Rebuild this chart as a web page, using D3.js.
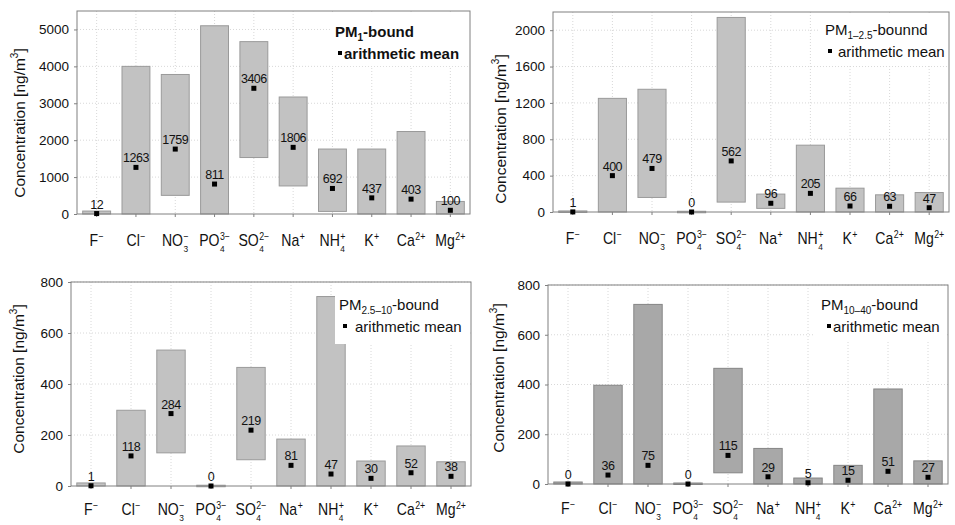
<!DOCTYPE html>
<html>
<head>
<meta charset="utf-8">
<script src="https://cdn.jsdelivr.net/npm/d3@7"></script>
<style>
  body { margin: 0; background: #fff; }
  text { font-family: "Liberation Sans", Arial, sans-serif; fill: #111; }
</style>
</head>
<body>
<div id="chart"></div>
<script>
// ions on the x axis: base text, subscript, superscript
const ions = ["F", "Cl", "NO", "PO", "SO", "Na", "NH", "K", "Ca", "Mg"];
const ionSub = ["", "", "3", "4", "4", "", "4", "", "", ""];
const ionSup = ["\u2212", "\u2212", "\u2212", "3\u2212", "2\u2212", "+", "+", "+", "2+", "2+"];

// PM1-bound: min, max, arithmetic mean
const pm1Min  = [0, 0, 505, 0, 1530, 760, 70, 0, 0, 0];
const pm1Max  = [80, 4000, 3780, 5100, 4670, 3170, 1760, 1760, 2235, 340];
const pm1Mean = [12, 1263, 1759, 811, 3406, 1806, 692, 437, 403, 100];

// PM1-2.5-bound
const pm12Min  = [0, 0, 160, 0, 109, 40, 0, 0, 0, 0];
const pm12Max  = [12, 1250, 1350, 8, 2140, 197, 735, 262, 189, 214];
const pm12Mean = [1, 400, 479, 0, 562, 96, 205, 66, 63, 47];

// PM2.5-10-bound
const pm210Min  = [0, 0, 130, 0, 103, 0, 0, 0, 0, 0];
const pm210Max  = [12, 297, 533, 3, 465, 184, 743, 98, 157, 95];
const pm210Mean = [1, 118, 284, 0, 219, 81, 47, 30, 52, 38];

// PM10-40-bound
const pm1040Min  = [0, 0, 0, 0, 45, 0, 0, 0, 0, 0];
const pm1040Max  = [8, 397, 722, 4, 465, 143, 24, 75, 382, 93];
const pm1040Mean = [0, 36, 75, 0, 115, 29, 5, 15, 51, 27];

const ticks1 = [0, 1000, 2000, 3000, 4000, 5000];
const ticks12 = [0, 400, 800, 1200, 1600, 2000];
const ticks800 = [0, 200, 400, 600, 800];

const W = 955, H = 525;
const svg = d3.select("#chart").append("svg")
  .attr("width", W).attr("height", H);
svg.append("rect").attr("width", W).attr("height", H).attr("fill", "#fff");

const panels = [
  { x0: 77, x1: 470, y0: 11, y1: 214, max: 5500, ticks: ticks1, labY: 32,
    lo: pm1Min, hi: pm1Max, mean: pm1Mean, fill: "#c2c2c2", stroke: "#9a9a9a",
    sub: "1", bold: true, tail: "-bound",
    leg: { x: 335, y: 37, sq: 3, tx: 9, bx: 330, by: 12, bw: 139, bh: 54 }, ylab: { x: 21, y: 123 } },
  { x0: 553, x1: 949, y0: 12, y1: 212, max: 2200, ticks: ticks12, labY: 32,
    lo: pm12Min, hi: pm12Max, mean: pm12Mean, fill: "#c2c2c2", stroke: "#9a9a9a",
    sub: "1\u20132.5", bold: false, tail: "-bounnd",
    leg: { x: 825, y: 35, sq: 3, tx: 13, bx: 820, by: 13, bw: 128, bh: 52 }, ylab: { x: 502, y: 129 } },
  { x0: 71, x1: 471, y0: 282, y1: 486, max: 800, ticks: ticks800, labY: 29,
    lo: pm210Min, hi: pm210Max, mean: pm210Mean, fill: "#c2c2c2", stroke: "#9a9a9a",
    sub: "2.5\u201310", bold: false, tail: "-bound",
    leg: { x: 339, y: 310, sq: 4, tx: 16, bx: 335, by: 283, bw: 135, bh: 61 }, ylab: { x: 20, y: 379 } },
  { x0: 548, x1: 948, y0: 285, y1: 484, max: 800, ticks: ticks800, labY: 30,
    lo: pm1040Min, hi: pm1040Max, mean: pm1040Mean, fill: "#a8a8a8", stroke: "#858585",
    sub: "10\u201340", bold: false, tail: "-bound",
    leg: { x: 821, y: 310, sq: 6, tx: 12, bx: 815, by: 286, bw: 132, bh: 56 }, ylab: { x: 500, y: 378 } }
];

panels.forEach(drawPanel);

function drawPanel(p) {
  const g = svg.append("g");
  const x = d3.scaleBand().domain(d3.range(ions.length))
    .range([p.x0, p.x1]).paddingInner(0.29).paddingOuter(0.145);
  const y = d3.scaleLinear().domain([0, p.max]).range([p.y1, p.y0]);
  const cx = i => x(i) + x.bandwidth() / 2;

  // grid
  g.selectAll(".hg").data(p.ticks.slice(1)).enter().append("line")
    .attr("x1", p.x0).attr("x2", p.x1)
    .attr("y1", d => y(d)).attr("y2", d => y(d))
    .attr("stroke", "#d8d8d8").attr("stroke-dasharray", "1,2");
  g.selectAll(".vg").data(d3.range(ions.length)).enter().append("line")
    .attr("x1", cx).attr("x2", cx)
    .attr("y1", p.y0).attr("y2", p.y1)
    .attr("stroke", "#d8d8d8").attr("stroke-dasharray", "1,2");

  // range boxes
  g.selectAll(".box").data(d3.range(ions.length)).enter().append("rect")
    .attr("x", i => x(i)).attr("width", x.bandwidth())
    .attr("y", i => y(p.hi[i]))
    .attr("height", i => Math.max(1.5, y(p.lo[i]) - y(p.hi[i])))
    .attr("fill", p.fill).attr("stroke", p.stroke).attr("stroke-width", 1);

  // legend background covers grid and bar tops
  g.append("rect").attr("x", p.leg.bx).attr("y", p.leg.by)
    .attr("width", p.leg.bw).attr("height", p.leg.bh).attr("fill", "#fff");

  // frame
  g.append("rect").attr("x", p.x0).attr("y", p.y0)
    .attr("width", p.x1 - p.x0).attr("height", p.y1 - p.y0)
    .attr("fill", "none").attr("stroke", "#808080").attr("stroke-width", 1);
  g.selectAll(".xt").data(d3.range(ions.length)).enter().append("line")
    .attr("x1", cx).attr("x2", cx).attr("y1", p.y1).attr("y2", p.y1 + 3)
    .attr("stroke", "#808080");

  // y axis ticks
  const ax = g.append("g").attr("transform", `translate(${p.x0},0)`)
    .call(d3.axisLeft(y).tickValues(p.ticks).tickFormat(d3.format("d"))
      .tickSize(3).tickPadding(5));
  ax.select(".domain").remove();
  ax.selectAll(".tick line").attr("stroke", "#808080");
  ax.selectAll("text").attr("font-size", 13.5).attr("fill", "#111")
    .attr("font-family", "Liberation Sans, Arial, sans-serif");

  // y label
  const yl = g.append("text")
    .attr("transform", `translate(${p.ylab.x},${p.ylab.y}) rotate(-90)`)
    .attr("text-anchor", "middle").attr("dominant-baseline", "middle")
    .attr("font-size", 15.5);
  yl.append("tspan").text("Concentration [ng/m");
  yl.append("tspan").text("3").attr("font-size", 10).attr("dy", -6);
  yl.append("tspan").text("]").attr("dy", 6);

  // means
  g.selectAll(".mean").data(d3.range(ions.length)).enter().append("rect")
    .attr("x", i => cx(i) - 2.5).attr("y", i => y(p.mean[i]) - 2.5)
    .attr("width", 5).attr("height", 5).attr("fill", "#000");
  g.selectAll(".val").data(d3.range(ions.length)).enter().append("text")
    .attr("x", cx).attr("y", i => y(p.mean[i]) - 5)
    .attr("text-anchor", "middle").attr("font-size", 12.5)
    .attr("letter-spacing", -0.5)
    .text(i => p.mean[i]);

  // ion labels, slightly condensed like the original
  d3.range(ions.length).forEach(i => {
    const lg = g.append("g");
    const base = lg.append("text").attr("x", 0).attr("y", 0)
      .attr("font-size", 16).text(ions[i]);
    const bw = base.node().getComputedTextLength();
    let extra = 0;
    if (ionSub[i]) {
      const s = lg.append("text").attr("x", bw + 0.5).attr("y", 6)
        .attr("font-size", 9.5).text(ionSub[i]);
      extra = Math.max(extra, s.node().getComputedTextLength());
    }
    const sp = lg.append("text").attr("x", bw + 0.5).attr("y", -6)
      .attr("font-size", 10).text(ionSup[i]);
    extra = Math.max(extra, sp.node().getComputedTextLength());
    const tw = (bw + 0.5 + extra) * 0.88;
    lg.attr("transform", `translate(${cx(i) - tw / 2},${p.y1 + p.labY}) scale(0.88,1)`);
  });

  // legend
  const wt = p.bold ? "bold" : "normal";
  const t1 = g.append("text").attr("x", p.leg.x).attr("y", p.leg.y)
    .attr("font-size", 15).attr("font-weight", wt);
  t1.append("tspan").text("PM");
  t1.append("tspan").text(p.sub).attr("font-size", 10).attr("dy", 4);
  t1.append("tspan").text(p.tail).attr("dy", -4);
  g.append("rect").attr("x", p.leg.x + p.leg.sq).attr("y", p.leg.y + 14)
    .attr("width", 4).attr("height", 4).attr("fill", "#000");
  g.append("text").attr("x", p.leg.x + p.leg.tx).attr("y", p.leg.y + 22)
    .attr("font-size", 15).attr("font-weight", wt).text("arithmetic mean");
}
</script>
</body>
</html>
